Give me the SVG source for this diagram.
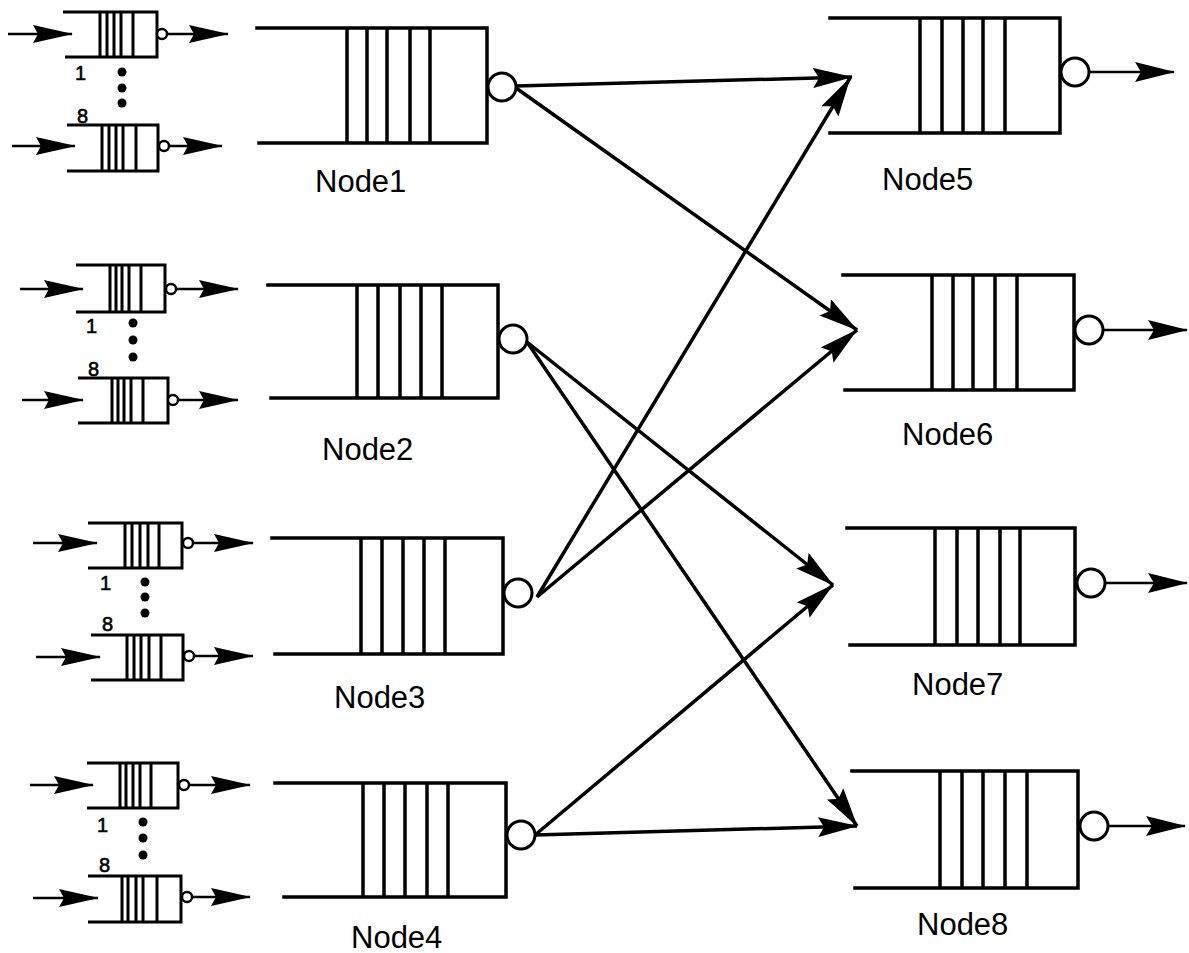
<svg xmlns="http://www.w3.org/2000/svg" width="1189" height="953" viewBox="0 0 1189 953">
  <style>
    .q { fill: none; stroke: #000; stroke-width: 3.5; stroke-linecap: square; }
    .qs { fill: none; stroke: #000; stroke-width: 3; }
    .srv { fill: #fff; stroke: #000; stroke-width: 3; }
    .srvs { fill: #fff; stroke: #000; stroke-width: 2.5; }
    .out { stroke: #000; stroke-width: 2.5; fill: none; }
    .link { stroke: #000; stroke-width: 3.5; fill: none; }
    .lbl { font-family: "Liberation Sans", Arial, sans-serif; font-size: 31px; fill: #000; }
    .idx { font-family: "Liberation Sans", Arial, sans-serif; font-size: 20px; fill: #000; stroke: #000; stroke-width: 0.6; }
    .dot { fill: #000; }
  </style>
  <defs>
    <marker id="big" markerUnits="userSpaceOnUse" viewBox="0 0 40 20" refX="39" refY="10" markerWidth="40" markerHeight="20" orient="auto">
      <path d="M0,0 L40,10 L0,20 L6,10 z" fill="#000"/>
    </marker>
    <marker id="small" markerUnits="userSpaceOnUse" viewBox="0 0 40 18" refX="39" refY="9" markerWidth="40" markerHeight="18" orient="auto">
      <path d="M0,0 L40,9 L0,18 L5,9 z" fill="#000"/>
    </marker>
  </defs>

  <!-- input buffers feeding Node1 -->
  <g id="inputs1">
    <path class="qs" d="M63,12 H157 V57 H65 M100,12 V57 M107,12 V57 M114,12 V57 M121,12 V57 M133,12 V57"/>
    <circle class="srvs" cx="162" cy="34" r="5"/>
    <line class="out" x1="8" y1="34" x2="72" y2="34" marker-end="url(#small)"/>
    <line class="out" x1="167" y1="34" x2="228" y2="34" marker-end="url(#small)"/>
    <path class="qs" d="M67,125 H158 V171 H67 M102,125 V171 M109,125 V171 M116,125 V171 M123,125 V171 M136,125 V171"/>
    <circle class="srvs" cx="164" cy="146" r="5"/>
    <line class="out" x1="12" y1="146" x2="75" y2="146" marker-end="url(#small)"/>
    <line class="out" x1="169" y1="146" x2="222" y2="146" marker-end="url(#small)"/>
    <text class="idx" x="75" y="80">1</text>
    <text class="idx" x="77" y="123">8</text>
    <circle class="dot" cx="122" cy="72" r="4.5"/>
    <circle class="dot" cx="122" cy="88" r="4.5"/>
    <circle class="dot" cx="122" cy="103" r="4.5"/>
  </g>

  <!-- input buffers feeding Node2 -->
  <g id="inputs2">
    <path class="qs" d="M76,265 H165 V312 H76 M110,265 V312 M116,265 V312 M122,265 V312 M129,265 V312 M141,265 V312"/>
    <circle class="srvs" cx="171" cy="289" r="5"/>
    <line class="out" x1="20" y1="289" x2="83" y2="289" marker-end="url(#small)"/>
    <line class="out" x1="176" y1="289" x2="238" y2="289" marker-end="url(#small)"/>
    <path class="qs" d="M78,378 H168 V423 H78 M112,378 V423 M118,378 V423 M124,378 V423 M131,378 V423 M143,378 V423"/>
    <circle class="srvs" cx="173" cy="400" r="5"/>
    <line class="out" x1="22" y1="400" x2="83" y2="400" marker-end="url(#small)"/>
    <line class="out" x1="178" y1="400" x2="238" y2="400" marker-end="url(#small)"/>
    <text class="idx" x="86" y="333">1</text>
    <text class="idx" x="88" y="376">8</text>
    <circle class="dot" cx="133" cy="323" r="4.5"/>
    <circle class="dot" cx="133" cy="340" r="4.5"/>
    <circle class="dot" cx="133" cy="357" r="4.5"/>
  </g>

  <!-- input buffers feeding Node3 -->
  <g id="inputs3">
    <path class="qs" d="M88,523 H182 V568 H88 M125,523 V568 M132,523 V568 M140,523 V568 M148,523 V568 M159,523 V568"/>
    <circle class="srvs" cx="188" cy="543" r="5"/>
    <line class="out" x1="33" y1="543" x2="97" y2="543" marker-end="url(#small)"/>
    <line class="out" x1="193" y1="543" x2="253" y2="543" marker-end="url(#small)"/>
    <path class="qs" d="M91,635 H183 V680 H91 M127,635 V680 M134,635 V680 M141,635 V680 M149,635 V680 M161,635 V680"/>
    <circle class="srvs" cx="189" cy="656" r="5"/>
    <line class="out" x1="36" y1="657" x2="100" y2="657" marker-end="url(#small)"/>
    <line class="out" x1="194" y1="656" x2="253" y2="656" marker-end="url(#small)"/>
    <text class="idx" x="100" y="590">1</text>
    <text class="idx" x="102" y="631">8</text>
    <circle class="dot" cx="145" cy="582" r="4.5"/>
    <circle class="dot" cx="145" cy="597" r="4.5"/>
    <circle class="dot" cx="145" cy="613" r="4.5"/>
  </g>

  <!-- input buffers feeding Node4 -->
  <g id="inputs4">
    <path class="qs" d="M87,763 H178 V808 H87 M120,763 V808 M126,763 V808 M133,763 V808 M140,763 V808 M151,763 V808"/>
    <circle class="srvs" cx="184" cy="785" r="5"/>
    <line class="out" x1="30" y1="785" x2="93" y2="785" marker-end="url(#small)"/>
    <line class="out" x1="189" y1="785" x2="250" y2="785" marker-end="url(#small)"/>
    <path class="qs" d="M88,876 H181 V922 H88 M122,876 V922 M128,876 V922 M136,876 V922 M143,876 V922 M157,876 V922"/>
    <circle class="srvs" cx="187" cy="897" r="5"/>
    <line class="out" x1="33" y1="898" x2="98" y2="898" marker-end="url(#small)"/>
    <line class="out" x1="192" y1="897" x2="250" y2="897" marker-end="url(#small)"/>
    <text class="idx" x="97" y="832">1</text>
    <text class="idx" x="99" y="872">8</text>
    <circle class="dot" cx="143" cy="822" r="4.5"/>
    <circle class="dot" cx="143" cy="838" r="4.5"/>
    <circle class="dot" cx="143" cy="855" r="4.5"/>
  </g>

  <!-- first stage queues -->
  <g id="node1">
    <path class="q" d="M257,28 H487 V143 H259 M347,28 V143 M367,28 V143 M387,28 V143 M410,28 V143 M430,28 V143"/>
    <circle class="srv" cx="502" cy="87" r="14"/>
    <text class="lbl" x="315" y="192">Node1</text>
  </g>
  <g id="node2">
    <path class="q" d="M268,285 H498 V398 H271 M357,285 V398 M378,285 V398 M400,285 V398 M421,285 V398 M442,285 V398"/>
    <circle class="srv" cx="513" cy="339" r="14"/>
    <text class="lbl" x="322" y="460">Node2</text>
  </g>
  <g id="node3">
    <path class="q" d="M272,538 H503 V654 H275 M361,538 V654 M382,538 V654 M403,538 V654 M424,538 V654 M445,538 V654"/>
    <circle class="srv" cx="518" cy="593" r="14"/>
    <text class="lbl" x="334" y="708">Node3</text>
  </g>
  <g id="node4">
    <path class="q" d="M275,783 H506 V897 H284 M363,783 V897 M384,783 V897 M405,783 V897 M427,783 V897 M448,783 V897"/>
    <circle class="srv" cx="521" cy="835" r="14"/>
    <text class="lbl" x="351" y="948">Node4</text>
  </g>

  <!-- second stage queues -->
  <g id="node5">
    <path class="q" d="M830,18 H1060 V133 H830 M920,18 V133 M942,18 V133 M963,18 V133 M983,18 V133 M1005,18 V133"/>
    <circle class="srv" cx="1075" cy="72" r="14"/>
    <line class="out" x1="1089" y1="72" x2="1174" y2="72" marker-end="url(#big)"/>
    <text class="lbl" x="882" y="190">Node5</text>
  </g>
  <g id="node6">
    <path class="q" d="M843,275 H1074 V390 H845 M932,275 V390 M953,275 V390 M973,275 V390 M995,275 V390 M1017,275 V390"/>
    <circle class="srv" cx="1089" cy="330" r="14"/>
    <line class="out" x1="1103" y1="330" x2="1187" y2="330" marker-end="url(#big)"/>
    <text class="lbl" x="902" y="445">Node6</text>
  </g>
  <g id="node7">
    <path class="q" d="M847,528 H1075 V645 H850 M935,528 V645 M957,528 V645 M978,528 V645 M1000,528 V645 M1020,528 V645"/>
    <circle class="srv" cx="1091" cy="583" r="14"/>
    <line class="out" x1="1105" y1="583" x2="1187" y2="583" marker-end="url(#big)"/>
    <text class="lbl" x="912" y="695">Node7</text>
  </g>
  <g id="node8">
    <path class="q" d="M852,771 H1078 V888 H855 M940,771 V888 M962,771 V888 M983,771 V888 M1005,771 V888 M1027,771 V888"/>
    <circle class="srv" cx="1094" cy="826" r="14"/>
    <line class="out" x1="1108" y1="826" x2="1185" y2="826" marker-end="url(#big)"/>
    <text class="lbl" x="917" y="935">Node8</text>
  </g>

  <!-- links between stages -->
  <g id="connectors">
    <line class="link" x1="516" y1="86" x2="852" y2="77" marker-end="url(#big)"/>
    <line class="link" x1="516" y1="88" x2="857" y2="330" marker-end="url(#big)"/>
    <line class="link" x1="527" y1="342" x2="833" y2="585" marker-end="url(#big)"/>
    <line class="link" x1="527" y1="342" x2="857" y2="826" marker-end="url(#big)"/>
    <line class="link" x1="537" y1="597" x2="850" y2="78" marker-end="url(#big)"/>
    <line class="link" x1="537" y1="597" x2="857" y2="330" marker-end="url(#big)"/>
    <line class="link" x1="535" y1="835" x2="833" y2="585" marker-end="url(#big)"/>
    <line class="link" x1="535" y1="835" x2="857" y2="826" marker-end="url(#big)"/>
  </g>
</svg>
